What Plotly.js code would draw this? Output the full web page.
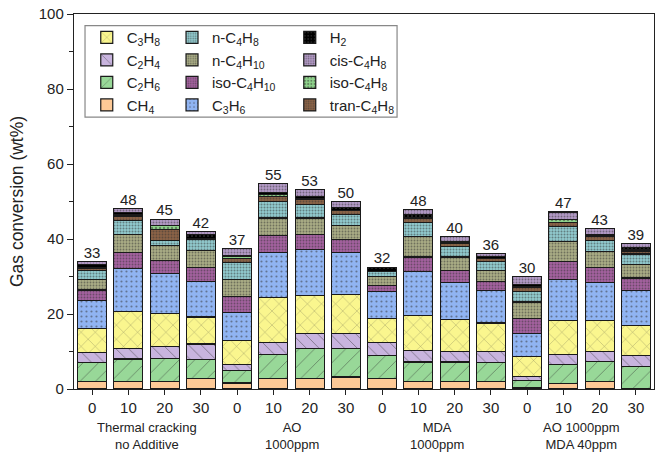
<!DOCTYPE html>
<html><head><meta charset="utf-8">
<script src="https://cdn.plot.ly/plotly-3.0.1.min.js"></script>
<style>body{margin:0;background:#fff}#chart{width:661px;height:454px}</style>
</head><body><div id="chart"></div>
<script>
// ---- data ----
const groups = ["Thermal cracking<br>no Additive", "AO<br>1000ppm", "MDA<br>1000ppm", "AO 1000ppm<br>MDA 40ppm"];
const doses = ["0","10","20","30","0","10","20","30","0","10","20","30","0","10","20","30"];
const totalLabels = [33,48,45,42,37,55,53,50,32,48,40,36,30,47,43,39];

const CH4      = [2.1,2.1,2.1,2.9, 1.6,2.7,2.9,3.2, 2.9,1.9,1.9,1.9, 0.3,1.5,1.9,0.0];
const C2H6     = [5.0,5.9,6.1,5.0, 3.4,6.6,8.0,7.5, 6.1,5.3,5.3,5.2, 2.0,5.0,5.5,6.0];
const C2H4     = [2.6,2.9,3.2,4.1, 1.5,3.1,3.9,4.0, 3.3,3.0,2.8,2.9, 1.1,2.7,2.6,3.0];
const C3H8     = [6.5,9.8,8.8,7.2, 6.4,12.1,10.1,10.5, 6.6,9.5,8.5,7.6, 5.3,9.0,8.3,7.9];
const C3H6     = [7.4,11.5,10.6,9.4, 7.4,11.9,12.4,11.1, 7.1,11.7,9.9,8.7, 6.0,11.1,10.2,9.4];
const isoC4H10 = [2.8,4.3,3.5,3.8, 4.3,4.5,3.9,3.5, 1.6,3.8,3.1,2.4, 4.0,4.7,3.9,3.3];
const nC4H10   = [2.9,4.8,4.0,4.5, 4.6,4.7,4.4,3.8, 2.4,5.5,3.7,2.9, 4.5,5.3,4.2,3.6];
const nC4H8    = [2.3,3.7,1.3,3.1, 4.6,4.3,3.7,2.9, 1.3,3.8,2.8,2.4, 2.8,4.1,3.1,2.8];
const tranC4H8 = [0.6,1.0,2.9,0.2, 1.1,1.4,1.3,1.0, 0.1,0.9,0.8,0.7, 1.0,1.1,0.9,0.8];
const isoC4H8  = [0.2,0.4,1.1,0.0, 0.5,0.6,0.2,0.2, 0.0,0.3,0.2,0.1, 0.4,0.8,0.3,0.3];
const H2       = [0.7,0.7,0.0,1.0, 0.1,0.4,0.6,0.6, 1.1,0.8,0.4,0.5, 0.4,0.0,0.4,0.6];
const cisC4H8  = [0.8,1.0,1.7,0.8, 2.0,2.4,1.8,1.7, 0.0,1.3,1.3,0.8, 2.2,1.9,1.5,1.1];

// ---- series definitions (stack order bottom -> top) ----
const series = [
  {name:"CH<sub>4</sub>", y:CH4, color:"#fdc996", shape:"", legend:"legend", rank:4},
  {name:"C<sub>2</sub>H<sub>6</sub>", y:C2H6, color:"#98d898", shape:"/", size:11, sol:0.08, legend:"legend", rank:3},
  {name:"C<sub>2</sub>H<sub>4</sub>", y:C2H4, color:"#c8b4de", shape:"\\", size:9, sol:0.1, legend:"legend", rank:2},
  {name:"C<sub>3</sub>H<sub>8</sub>", y:C3H8, color:"#faf68e", shape:"x", size:10, sol:0.08, legend:"legend", rank:1},
  {name:"C<sub>3</sub>H<sub>6</sub>", y:C3H6, color:"#90b4f2", shape:".", size:5, sol:0.15, legend:"legend2", rank:8},
  {name:"iso-C<sub>4</sub>H<sub>10</sub>", y:isoC4H10, color:"#a4619f", shape:".", size:3, sol:0.3, legend:"legend2", rank:7},
  {name:"n-C<sub>4</sub>H<sub>10</sub>", y:nC4H10, color:"#a9ac85", shape:".", size:3, sol:0.3, legend:"legend2", rank:6},
  {name:"n-C<sub>4</sub>H<sub>8</sub>", y:nC4H8, color:"#91cace", shape:".", size:3, sol:0.35, legend:"legend2", rank:5},
  {name:"tran-C<sub>4</sub>H<sub>8</sub>", y:tranC4H8, color:"#8a6246", shape:".", size:3, sol:0.3, legend:"legend3", rank:12},
  {name:"iso-C<sub>4</sub>H<sub>8</sub>", y:isoC4H8, color:"#8fd48c", shape:".", size:4, sol:0.3, legend:"legend3", rank:11},
  {name:"H<sub>2</sub>", y:H2, color:"#000000", shape:".", size:4, sol:0.2, legend:"legend3", rank:9, fg:"#555"},
  {name:"cis-C<sub>4</sub>H<sub>8</sub>", y:cisC4H8, color:"#b39ac6", shape:".", size:3, sol:0.3, legend:"legend3", rank:10}
];

const xs = doses.map((d,i)=>i);
const traces = series.map(s => {
  const m = {color:s.color, line:{color:"#1a1a1a", width:1.2}};
  if (s.shape) m.pattern = {shape:s.shape, fillmode:"overlay", bgcolor:s.color, fgcolor:s.fg||"#333", size:s.size, solidity:s.sol};
  return {type:"bar", x:xs, y:s.y, name:s.name, marker:m, legend:s.legend, legendrank:s.rank, hoverinfo:"skip"};
});

const totals = xs.map(i => series.reduce((a,s)=>a+s.y[i],0));
traces.push({type:"scatter", mode:"text", x:xs, y:totals, text:totalLabels.map(String),
  textposition:"top center", textfont:{family:"Liberation Sans, Arial", size:15, color:"#222"},
  showlegend:false, hoverinfo:"skip", cliponaxis:false});

const font = {family:"Liberation Sans, Arial, sans-serif", size:15, color:"#222"};
const legBase = {bgcolor:"rgba(0,0,0,0)", borderwidth:0, traceorder:"normal", yanchor:"top",
  font:{family:"Liberation Sans, Arial", size:15, color:"#222"}, itemwidth:30, tracegroupgap:0};

const annotations = groups.map((g,k)=>({x:k*4+1.5, y:-0.078, xref:"x", yref:"paper", text:g, showarrow:false,
  yanchor:"top", font:{family:"Liberation Sans, Arial", size:13, color:"#222"}}));

const layout = {
  width:661, height:454,
  margin:{l:74, r:7, t:14, b:65},
  paper_bgcolor:"#fff", plot_bgcolor:"#fff",
  font: font,
  barmode:"stack", bargap:0.2,
  xaxis:{range:[-0.5,15.5], tickvals:xs, ticktext:doses, ticks:"outside", ticklen:5, tickcolor:"#222",
    showline:true, linecolor:"#222", linewidth:1.2, mirror:true, showgrid:false, zeroline:false,
    tickfont:{size:15}},
  yaxis:{range:[0,100], tickvals:[0,20,40,60,80,100], ticks:"outside", ticklen:6, tickcolor:"#222",
    minor:{tickvals:[10,30,50,70,90], ticks:"outside", ticklen:4, tickcolor:"#222"},
    showline:true, linecolor:"#222", linewidth:1.2, mirror:true, showgrid:false, zeroline:false,
    tickfont:{size:15}, title:{text:"Gas conversion (wt%)", font:{size:17.5}, standoff:10}},
  legend: Object.assign({}, legBase, {x:0.022, y:0.981}),
  legend2: Object.assign({}, legBase, {x:0.169, y:0.981}),
  legend3: Object.assign({}, legBase, {x:0.372, y:0.981}),
  shapes:[{type:"rect", xref:"paper", yref:"paper", x0:0.019, x1:0.557, y0:0.725, y1:0.969,
    line:{color:"#888", width:1.2}, fillcolor:"rgba(0,0,0,0)", layer:"above"}],
  annotations: annotations
};

Plotly.newPlot("chart", traces, layout, {displayModeBar:false, staticPlot:true});
</script>
</body></html>
